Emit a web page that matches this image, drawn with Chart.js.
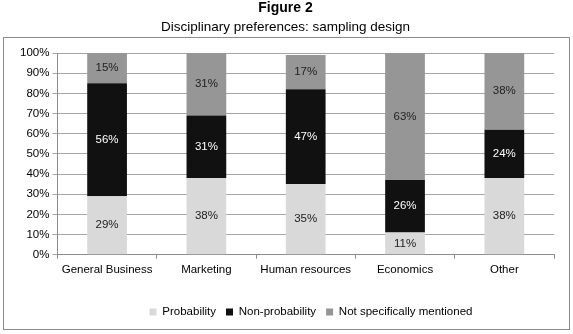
<!DOCTYPE html>
<html>
<head>
<meta charset="utf-8">
<script src="https://cdn.jsdelivr.net/npm/chart.js@4"></script>
<style>
  body { margin: 0; background: #fff; }
  canvas { display: block; }
</style>
</head>
<body>
<canvas id="chart" width="573" height="334"></canvas>
<script>
const categories = ["General Business", "Marketing", "Human resources", "Economics", "Other"];
const probability = [29, 38, 35, 11, 38];
const nonProbability = [56, 31, 47, 26, 24];
const notMentioned = [15, 31, 17, 63, 38];

const font = "'Liberation Sans', Arial, sans-serif";

// white background + grey frame under the plot
const framePlugin = {
  id: "frame",
  afterLayout(chart) {
    // excel puts the legend a bit right of centre and lower down
    const lg = chart.legend;
    const dx = 311 - (lg.left + lg.right) / 2;
    const dy = (312 - 10 - 5.75) - lg.top;
    lg.left += dx; lg.right += dx;
    lg.top += dy; lg.bottom += dy;
  },
  beforeDraw(chart) {
    const { ctx } = chart;
    ctx.save();
    ctx.fillStyle = "#fff";
    ctx.fillRect(0, 0, chart.width, chart.height);
    ctx.strokeStyle = "#8c8c8c";
    ctx.lineWidth = 1;
    ctx.strokeRect(3.5, 37.5, 566, 292);
    ctx.restore();
  }
};

const valueLabels = {
  id: "valueLabels",
  afterDatasetsDraw(chart) {
    const { ctx } = chart;
    chart.data.datasets.forEach((dataset, i) => {
      const meta = chart.getDatasetMeta(i);
      meta.data.forEach((bar, index) => {
        const value = dataset.data[index];
        ctx.save();
        ctx.font = "11.5px " + font;
        ctx.fillStyle = i === 1 ? "#fff" : "#222";
        ctx.textAlign = "center";
        ctx.textBaseline = "middle";
        ctx.fillText(value + "%", bar.x, (bar.y + bar.base) / 2);
        ctx.restore();
      });
    });
  }
};

new Chart(document.getElementById("chart").getContext("2d"), {
  type: "bar",
  data: {
    labels: categories,
    datasets: [
      { label: "Probability", data: probability, backgroundColor: "#d9d9d9" },
      { label: "Non-probability", data: nonProbability, backgroundColor: "#111111" },
      { label: "Not specifically mentioned", data: notMentioned, backgroundColor: "#969696" }
    ]
  },
  options: {
    responsive: false,
    animation: false,
    layout: { padding: { left: 17, right: 19, top: 0, bottom: 22 } },
    datasets: { bar: { categoryPercentage: 1, barPercentage: 0.4 } },
    plugins: {
      title: {
        display: true,
        text: "Figure 2",
        color: "#000",
        font: { family: font, size: 14, weight: "bold" },
        padding: { top: 0, bottom: 2 }
      },
      subtitle: {
        display: true,
        text: "Disciplinary preferences: sampling design",
        color: "#000",
        font: { family: font, size: 13.5 },
        padding: { top: 0, bottom: 18 }
      },
      legend: {
        position: "bottom",
        labels: {
          boxWidth: 7,
          boxHeight: 7,
          padding: 10,
          color: "#000",
          font: { family: font, size: 11.5 }
        }
      },
      tooltip: { enabled: false }
    },
    scales: {
      x: {
        stacked: true,
        grid: { drawOnChartArea: false, drawTicks: true, tickLength: 4, color: "#8c8c8c" },
        border: { color: "#8c8c8c" },
        ticks: { color: "#000", font: { family: font, size: 11.5 }, padding: 4 }
      },
      y: {
        stacked: true,
        min: 0,
        max: 100,
        grid: { color: "#a6a6a6", tickLength: 5 },
        border: { color: "#8c8c8c" },
        ticks: {
          stepSize: 10,
          padding: 3,
          color: "#000",
          font: { family: font, size: 11.5 },
          callback: v => v + "%"
        }
      }
    }
  },
  plugins: [framePlugin, valueLabels]
});
</script>
</body>
</html>
